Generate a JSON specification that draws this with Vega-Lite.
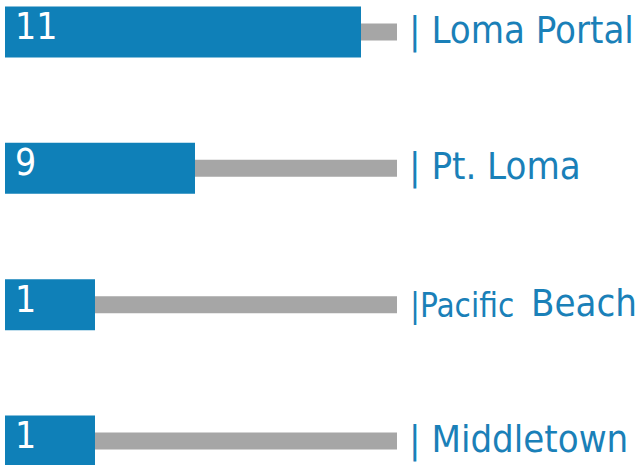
{
  "$schema": "https://vega.github.io/schema/vega-lite/v6.json",
  "width": 641,
  "height": 465,
  "autosize": "none",
  "padding": 0,
  "background": "white",
  "config": {"view": {"stroke": null}},
  "data": {"values": [
    {"name": "Loma Portal", "label": "| Loma Portal", "value": 11, "track": 12},
    {"name": "Pt. Loma", "label": "| Pt. Loma", "value": 9, "track": 12},
    {"name": "Pacific Beach", "label": "|Pacific Beach", "value": 1, "track": 12},
    {"name": "Middletown", "label": "| Middletown", "value": 1, "track": 12}
  ]},
  "encoding": {
    "y": {"field": "name", "type": "nominal", "sort": null, "axis": null,
          "scale": {"type": "point", "range": [32, 441], "padding": 0}}
  },
  "layer": [
    {
      "mark": {"type": "bar", "color": "#a6a6a6", "size": 17},
      "encoding": {
        "x": {"field": "track", "type": "quantitative", "axis": null,
              "scale": {"domain": [0, 1, 9, 11, 12], "range": [5, 95, 195, 361, 397], "clamp": false, "nice": false, "zero": false}}
      }
    },
    {
      "mark": {"type": "bar", "color": "#0f80b8", "size": 51},
      "encoding": {
        "x": {"field": "value", "type": "quantitative"}
      }
    },
    {
      "mark": {"type": "text", "color": "white", "align": "left", "baseline": "middle", "fontSize": 37, "font": "DejaVu Sans Condensed", "dx": 10, "dy": -4},
      "encoding": {
        "x": {"datum": 0},
        "text": {"field": "value", "type": "quantitative"}
      }
    },
    {
      "transform": [{"filter": "datum.name !== 'Pacific Beach'"}],
      "mark": {"type": "text", "color": "#1a80b8", "align": "left", "baseline": "middle", "fontSize": 38, "font": "DejaVu Sans Condensed", "dx": 12, "dy": 0},
      "encoding": {
        "x": {"datum": 12},
        "text": {"field": "label", "type": "nominal"}
      }
    },
    {
      "transform": [{"filter": "datum.name === 'Pacific Beach'"}],
      "mark": {"type": "text", "color": "#1a80b8", "align": "left", "baseline": "middle", "fontSize": 33, "font": "DejaVu Sans Condensed", "dx": 13, "dy": 2},
      "encoding": {
        "x": {"datum": 12},
        "text": {"value": "|Pacific"}
      }
    },
    {
      "transform": [{"filter": "datum.name === 'Pacific Beach'"}],
      "mark": {"type": "text", "color": "#1a80b8", "align": "right", "baseline": "middle", "fontSize": 38, "font": "DejaVu Sans Condensed", "dx": 240, "dy": 0},
      "encoding": {
        "x": {"datum": 12},
        "text": {"value": "Beach"}
      }
    }
  ]
}
